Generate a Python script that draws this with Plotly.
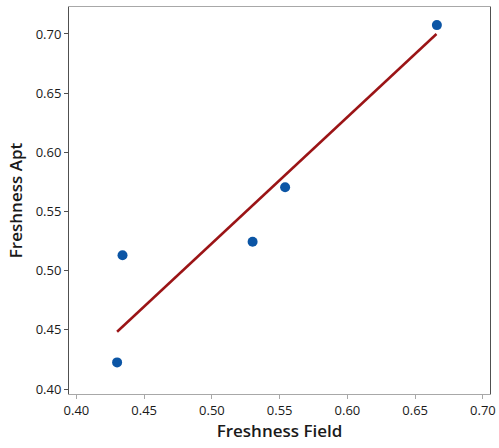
import plotly.graph_objects as go

# Observed freshness scores
freshness_field = [0.430, 0.434, 0.530, 0.554, 0.666]
freshness_apt = [0.4225, 0.513, 0.5245, 0.5705, 0.7075]

# Fitted line endpoints
fit_x = [0.430, 0.6657]
fit_y = [0.4484, 0.700]

tick_vals = [0.40, 0.45, 0.50, 0.55, 0.60, 0.65, 0.70]
tick_text = ["0.40", "0.45", "0.50", "0.55", "0.60", "0.65", "0.70"]

fig = go.Figure()
fig.add_trace(go.Scatter(
    x=fit_x, y=fit_y, mode="lines",
    line=dict(color="#9b1416", width=2.5),
    hoverinfo="skip", showlegend=False,
))
fig.add_trace(go.Scatter(
    x=freshness_field, y=freshness_apt, mode="markers",
    marker=dict(color="#0b55a5", size=10),
    showlegend=False,
))

tick_font = dict(family="Open Sans", size=13, color="#1a1a1a")
title_font = dict(family="Open Sans", size=17, color="#1a1a1a", weight=600)

fig.update_layout(
    width=499, height=448,
    margin=dict(l=69, r=9, t=7, b=54),
    paper_bgcolor="white", plot_bgcolor="white",
    xaxis=dict(range=[0.3945, 0.7052], automargin=False,
               showgrid=False, zeroline=False,
               showline=True, linecolor="#a8a8a8", linewidth=1, mirror=True,
               ticks="outside", ticklen=4, tickcolor="#a8a8a8",
               tickvals=tick_vals, ticktext=tick_text, tickfont=tick_font,
               title=dict(text="Freshness Field", standoff=6, font=title_font)),
    yaxis=dict(range=[0.3958, 0.7228], automargin=False,
               showgrid=False, zeroline=False,
               showline=True, linecolor="#505050", linewidth=1, mirror=True,
               ticks="outside", ticklen=4, tickcolor="#505050",
               tickvals=tick_vals, ticktext=tick_text, tickfont=tick_font,
               title=dict(text="Freshness Apt", standoff=8, font=title_font)),
)

fig.write_html("out.html")
